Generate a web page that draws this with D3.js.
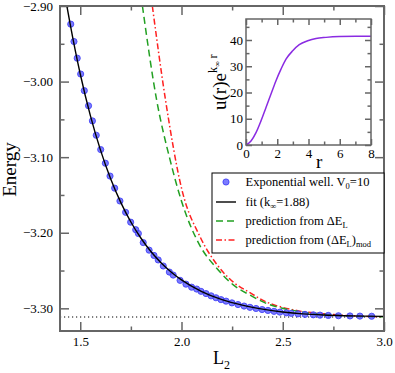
<!DOCTYPE html>
<html>
<head>
<meta charset="utf-8">
<script src="https://cdn.jsdelivr.net/npm/d3@7"></script>
<style>
  body { margin: 0; background: #fff; }
  svg { display: block; }
  svg text { font-family: "Liberation Serif", "Times New Roman", serif; }
</style>
</head>
<body>
<svg id="chart" width="395" height="373"></svg>
<script>
// data
const pointL = [1.453,1.469,1.485,1.502,1.520,1.541,1.560,1.579,1.601,1.624,1.647,1.670,1.696,1.724,1.749,1.774,1.787,1.811,1.840,1.864,1.885,1.910,1.940,1.959,1.993,2.022,2.050,2.075,2.096,2.121,2.146,2.170,2.195,2.220,2.249,2.279,2.309,2.338,2.368,2.398,2.427,2.457,2.486,2.518,2.542,2.575,2.610,2.651,2.684,2.725,2.775,2.832,2.881,2.939];
const pointE = [-2.924,-2.947,-2.969,-2.990,-3.012,-3.032,-3.052,-3.071,-3.090,-3.108,-3.125,-3.141,-3.158,-3.173,-3.186,-3.196,-3.201,-3.213,-3.223,-3.230,-3.236,-3.244,-3.252,-3.256,-3.263,-3.268,-3.272,-3.2745,-3.2775,-3.2805,-3.2835,-3.286,-3.2885,-3.2905,-3.2928,-3.295,-3.297,-3.2987,-3.3002,-3.3016,-3.3028,-3.304,-3.305,-3.306,-3.3066,-3.3073,-3.308,-3.3086,-3.309,-3.3094,-3.3098,-3.3101,-3.3103,-3.3105];

const fitL = [1.434,1.45,1.5,1.55,1.6,1.65,1.7,1.75,1.8,1.85,1.9,1.95,2.0,2.1,2.2,2.3,2.4,2.5,2.6,2.7,2.8,2.9,3.0];
const fitE = [-2.900,-2.9236,-2.990,-3.0451,-3.0907,-3.1285,-3.1598,-3.1858,-3.2073,-3.2252,-3.2400,-3.2522,-3.2624,-3.2778,-3.2885,-3.2958,-3.3010,-3.3048,-3.3074,-3.3089,-3.3098,-3.3103,-3.3106];

const dELL = [1.807,1.877,1.943,2.001,2.091,2.174,2.256,2.338,2.421,2.503,2.585,2.750,2.915,3.0];
const dELE = [-2.900,-3.024,-3.103,-3.159,-3.217,-3.247,-3.269,-3.2825,-3.2937,-3.3001,-3.3044,-3.3088,-3.3108,-3.3113];

const modL = [1.856,1.922,2.001,2.091,2.174,2.256,2.338,2.421,2.503,2.585,2.750,2.915,3.0];
const modE = [-2.900,-3.026,-3.142,-3.205,-3.2417,-3.2654,-3.2793,-3.2918,-3.299,-3.3037,-3.3083,-3.3107,-3.3115];

const asymptoteE = -3.3115;

const insetR = [0,0.32,0.64,0.96,1.28,1.6,1.92,2.24,2.56,2.99,3.41,3.95,4.48,5.12,5.97,7.04,8];
const insetU = [0,1.5,4.7,9.2,14.3,19.4,24.5,28.9,32.7,35.9,38.2,39.7,40.6,41.0,41.3,41.4,41.4];

const xMajor = [1.5,2.0,2.5,3.0];
const xMinor = [1.75,2.25,2.75];
const yMajor = [-2.90,-3.00,-3.10,-3.20,-3.30];
const yMinor = [-2.95,-3.05,-3.15,-3.25];
const insetXMajor = [0,2,4,6,8];
const insetXMinor = [1,3,5,7];
const insetYMajor = [0,10,20,30,40];
const insetYMinor = [5,15,25,35,45];

const svg = d3.select("#chart");
const axisColor = "#666";
const serif = "'Liberation Serif', 'Times New Roman', serif";

// main panel
const m = {left: 60, right: 384, top: 6, bottom: 331};
const x = d3.scaleLinear().domain([1.4, 3.0]).range([m.left, m.right]);
const y = d3.scaleLinear().domain([-3.33, -2.90]).range([m.bottom, m.top]);

svg.append("clipPath").attr("id", "clipMain")
  .append("rect")
  .attr("x", m.left).attr("y", m.top)
  .attr("width", m.right - m.left).attr("height", m.bottom - m.top);

const minus = s => s.replace("-", "\u2212");

function drawTicks(g, axisFn, scale, major, minor, bigLen, smallLen, fmt, pad) {
  g.append("g").call(axisFn(scale).tickValues(major).tickSize(-bigLen).tickSizeOuter(0)
      .tickPadding(pad).tickFormat(fmt));
  g.append("g").call(axisFn(scale).tickValues(minor).tickSize(-smallLen).tickSizeOuter(0)
      .tickFormat(""));
  g.selectAll(".domain").remove();
  g.selectAll("g").attr("font-family", serif);
  g.selectAll(".tick line").attr("stroke", axisColor).attr("stroke-width", 1.5);
}

const fmtX = d3.format(".1f");
const fmtY = d => minus(d3.format(".2f")(d));

const gx = svg.append("g").attr("transform", `translate(0,${m.bottom})`);
drawTicks(gx, d3.axisBottom, x, xMajor, xMinor, 9, 4.5, fmtX, 6);
const gxt = svg.append("g").attr("transform", `translate(0,${m.top})`);
drawTicks(gxt, d3.axisTop, x, xMajor, xMinor, 9, 4.5, "", 0);
const gy = svg.append("g").attr("transform", `translate(${m.left},0)`);
drawTicks(gy, d3.axisLeft, y, yMajor, yMinor, 9, 4.5, fmtY, 7);
const gyr = svg.append("g").attr("transform", `translate(${m.right},0)`);
drawTicks(gyr, d3.axisRight, y, yMajor, yMinor, 9, 4.5, "", 0);

svg.selectAll(".tick text").attr("font-size", 13).attr("fill", "#000");

// data
const plot = svg.append("g").attr("clip-path", "url(#clipMain)");

plot.append("line")
  .attr("x1", x(1.4)).attr("x2", x(3.0))
  .attr("y1", y(asymptoteE)).attr("y2", y(asymptoteE))
  .attr("stroke", "#000").attr("stroke-width", 1.2).attr("stroke-dasharray", "1.2,2.8");

const line = d3.line().x(d => x(d[0])).y(d => y(d[1])).curve(d3.curveMonotoneX);

plot.append("path").datum(d3.zip(modL, modE))
  .attr("d", line).attr("fill", "none")
  .attr("stroke", "#ff2020").attr("stroke-width", 1.5).attr("stroke-dasharray", "6,2.5,1.5,2.5");

plot.append("path").datum(d3.zip(dELL, dELE))
  .attr("d", line).attr("fill", "none")
  .attr("stroke", "#22a022").attr("stroke-width", 1.5).attr("stroke-dasharray", "7,4");

plot.selectAll("circle.pt").data(d3.zip(pointL, pointE)).join("circle")
  .attr("class", "pt")
  .attr("cx", d => x(d[0])).attr("cy", d => y(d[1])).attr("r", 3.1)
  .attr("fill", "#5a5aff").attr("stroke", "#3a3af5").attr("stroke-width", 0.8)
  .attr("fill-opacity", 0.8);

plot.append("path").datum(d3.zip(fitL, fitE))
  .attr("d", line).attr("fill", "none")
  .attr("stroke", "#000").attr("stroke-width", 1.4);

svg.append("rect")
  .attr("x", m.left).attr("y", m.top)
  .attr("width", m.right - m.left).attr("height", m.bottom - m.top)
  .attr("fill", "none").attr("stroke", axisColor).attr("stroke-width", 2);

// axis titles
svg.append("text")
  .attr("transform", `translate(15.5,${(m.top + m.bottom) / 2 + 1}) rotate(-90)`)
  .attr("text-anchor", "middle").attr("font-size", 19).text("Energy");

const xt = svg.append("text").attr("x", 213).attr("y", 364).attr("font-size", 18);
xt.append("tspan").text("L");
xt.append("tspan").attr("dy", 5).attr("font-size", 12).text("2");

// legend
const lg = svg.append("g");
lg.append("rect").attr("x", 212).attr("y", 173).attr("width", 172).attr("height", 80)
  .attr("fill", "#fff").attr("stroke", "#000").attr("stroke-width", 1);

const rowY = [182, 202, 221, 240];
const textX = 245.5;
lg.append("circle").attr("cx", 226).attr("cy", rowY[0]).attr("r", 3.1)
  .attr("fill", "#5a5aff").attr("stroke", "#3a3af5").attr("stroke-width", 0.8).attr("fill-opacity", 0.8);
lg.append("line").attr("x1", 216).attr("x2", 236).attr("y1", rowY[1]).attr("y2", rowY[1])
  .attr("stroke", "#000").attr("stroke-width", 1.4);
lg.append("line").attr("x1", 216).attr("x2", 236).attr("y1", rowY[2]).attr("y2", rowY[2])
  .attr("stroke", "#22a022").attr("stroke-width", 1.5).attr("stroke-dasharray", "7,4");
lg.append("line").attr("x1", 216).attr("x2", 236).attr("y1", rowY[3]).attr("y2", rowY[3])
  .attr("stroke", "#ff2020").attr("stroke-width", 1.5).attr("stroke-dasharray", "6,2.5,1.5,2.5");

const fs = 12.5, sub = 8.5;
function legendText(i) {
  return lg.append("text").attr("x", textX).attr("y", rowY[i] + 4).attr("font-size", fs);
}
let t = legendText(0);
t.append("tspan").text("Exponential well. V");
t.append("tspan").attr("dy", 3).attr("font-size", sub).text("0");
t.append("tspan").attr("dy", -3).text("=10");

t = legendText(1);
t.append("tspan").text("fit (k");
t.append("tspan").attr("dy", 3).attr("font-size", sub).text("\u221e");
t.append("tspan").attr("dy", -3).text("=1.88)");

t = legendText(2);
t.append("tspan").text("prediction from \u0394E");
t.append("tspan").attr("dy", 3).attr("font-size", sub).text("L");

t = legendText(3);
t.append("tspan").text("prediction from (\u0394E");
t.append("tspan").attr("dy", 3).attr("font-size", sub).text("L");
t.append("tspan").attr("dy", -3).text(")");
t.append("tspan").attr("dy", 3).attr("font-size", sub).text("mod");

// inset
const n = {left: 246, right: 371, top: 19, bottom: 145};
const xi = d3.scaleLinear().domain([0, 8]).range([n.left, n.right]);
const yi = d3.scaleLinear().domain([0, 48]).range([n.bottom, n.top]);

svg.append("rect").attr("x", n.left).attr("y", n.top)
  .attr("width", n.right - n.left).attr("height", n.bottom - n.top)
  .attr("fill", "#fff");

const ix = svg.append("g").attr("transform", `translate(0,${n.bottom})`);
drawTicks(ix, d3.axisBottom, xi, insetXMajor, insetXMinor, 6, 3.5, d3.format("d"), 4);
const ixt = svg.append("g").attr("transform", `translate(0,${n.top})`);
drawTicks(ixt, d3.axisTop, xi, insetXMajor, insetXMinor, 6, 3.5, "", 0);
const iy = svg.append("g").attr("transform", `translate(${n.left},0)`);
drawTicks(iy, d3.axisLeft, yi, insetYMajor, insetYMinor, 6, 3.5, d3.format("d"), 3);
const iyr = svg.append("g").attr("transform", `translate(${n.right},0)`);
drawTicks(iyr, d3.axisRight, yi, insetYMajor, insetYMinor, 6, 3.5, "", 0);
[ix, iy].forEach(g => g.selectAll(".tick text").attr("font-size", 13).attr("fill", "#000"));

const insetLine = d3.line().x(d => xi(d[0])).y(d => yi(d[1])).curve(d3.curveMonotoneX);
svg.append("path").datum(d3.zip(insetR, insetU))
  .attr("d", insetLine).attr("fill", "none")
  .attr("stroke", "#8a2be2").attr("stroke-width", 1.5);

svg.append("rect").attr("x", n.left).attr("y", n.top)
  .attr("width", n.right - n.left).attr("height", n.bottom - n.top)
  .attr("fill", "none").attr("stroke", axisColor).attr("stroke-width", 1.5);

const it = svg.append("text")
  .attr("transform", `translate(226,110) rotate(-90)`)
  .attr("font-size", 19);
it.append("tspan").text("u(r)e");
it.append("tspan").attr("dy", -9).attr("font-size", 12).text("k");
it.append("tspan").attr("dy", 3).attr("font-size", 8).text("\u221e");
it.append("tspan").attr("dy", -3).attr("font-size", 12).text(" r");

svg.append("text").attr("x", 316).attr("y", 168).attr("font-size", 19).text("r");

svg.selectAll("text").attr("font-family", serif);
</script>
</body>
</html>
